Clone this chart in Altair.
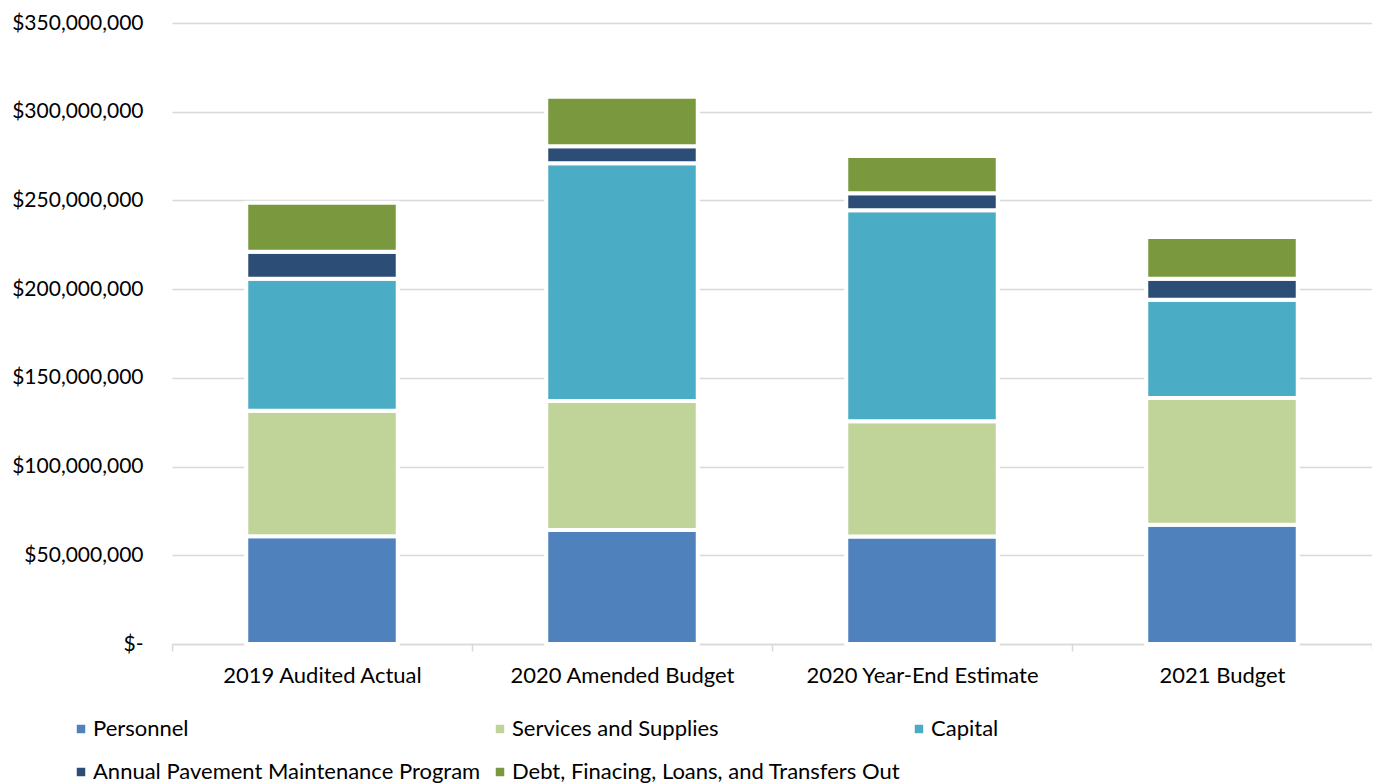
import altair as alt
import pandas as pd

categories = ["2019 Audited Actual", "2020 Amended Budget", "2020 Year-End Estimate", "2021 Budget"]
series = [
    "Personnel",
    "Services and Supplies",
    "Capital",
    "Annual Pavement Maintenance Program",
    "Debt, Finacing, Loans, and Transfers Out",
]
colors = ["#4F81BD", "#C0D399", "#4BACC6", "#2C4D75", "#7A983E"]

# values in millions of dollars
personnel = [60.7, 64.3, 60.6, 67.2]
services = [70.7, 72.6, 65.0, 71.5]
capital = [74.5, 134.1, 118.8, 55.3]
pavement = [15.2, 9.5, 9.6, 11.8]
debt = [27.6, 28.0, 21.1, 23.6]

y_ticks = [0, 50e6, 100e6, 150e6, 200e6, 250e6, 300e6, 350e6]

rows = []
for si, (name, vals) in enumerate(zip(series, [personnel, services, capital, pavement, debt])):
    for c, v in zip(categories, vals):
        rows.append({"category": c, "series": name, "idx": si, "value": v * 1e6})
df = pd.DataFrame(rows)

FONT = "Lato"

chart = (
    alt.Chart(df)
    .mark_bar(width={"band": 0.505}, stroke="white", strokeWidth=4)
    .encode(
        x=alt.X(
            "category:N",
            sort=categories,
            title=None,
            scale=alt.Scale(paddingInner=0, paddingOuter=0),
            axis=alt.Axis(
                labelAngle=0,
                tickBand="extent",
                domainColor="#D9D9D9",
                domainWidth=1.5,
                tickColor="#D9D9D9",
                tickWidth=1.5,
                tickSize=7,
                labelPadding=14,
                grid=False,
                labelFontSize=22,
                labelColor="#000000",
                labelFont=FONT,
                labelLimit=400,
            ),
        ),
        y=alt.Y(
            "value:Q",
            stack="zero",
            title=None,
            scale=alt.Scale(domain=[0, 350e6], nice=False),
            axis=alt.Axis(
                values=y_ticks,
                labelExpr="datum.value == 0 ? '$-' : '$' + format(datum.value, ',')",
                domain=False,
                ticks=False,
                labelPadding=29,
                gridColor="#D9D9D9",
                gridWidth=1.5,
                labelFontSize=21,
                labelColor="#000000",
                labelFont=FONT,
            ),
        ),
        color=alt.Color(
            "series:N",
            sort=series,
            scale=alt.Scale(domain=series, range=colors),
            legend=alt.Legend(
                title=None,
                orient="none",
                direction="horizontal",
                legendX=-102,
                legendY=695,
                columns=3,
                gridAlign="all",
                columnPadding=7,
                rowPadding=21,
                symbolType="square",
                symbolSize=72,
                symbolStrokeWidth=0,
                labelOffset=1,
                labelFontSize=22,
                labelFont=FONT,
                labelColor="#000000",
                labelLimit=600,
                padding=0,
            ),
        ),
        order=alt.Order("idx:Q", sort="ascending"),
    )
    .properties(
        width=1200,
        height=621,
        autosize=alt.AutoSizeParams(type="none"),
        padding={"left": 164, "top": 15, "right": 0, "bottom": 150},
    )
    .configure_view(stroke=None)
)

chart.save("out.html", embed_options={"renderer": "svg", "actions": False})
